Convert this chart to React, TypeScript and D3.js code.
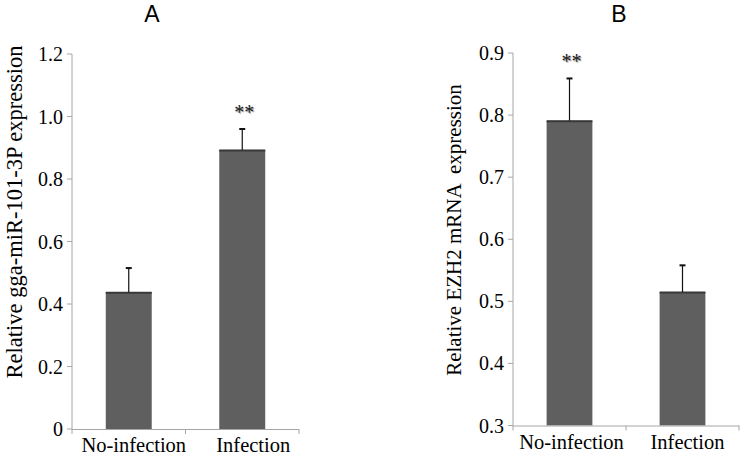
import React from 'react'
import * as d3 from 'd3'

const categories = ['No-infection', 'Infection']

// panel A: gga-miR-101-3P
const mirValues = [0.438, 0.893]
const mirErrors = [0.077, 0.067]
const mirStars = ['', '**']
const mirTicks = [0, 0.2, 0.4, 0.6, 0.8, 1.0, 1.2]

// panel B: EZH2 mRNA
const ezhValues = [0.791, 0.515]
const ezhErrors = [0.068, 0.043]
const ezhStars = ['**', '']
const ezhTicks = [0.3, 0.4, 0.5, 0.6, 0.7, 0.8, 0.9]

const serif = '"Liberation Serif", "Times New Roman", serif'
const sans = '"Liberation Sans", Arial, sans-serif'

const Panel = ({ letter, letterX, xRange, yDomain, yRange, ticks, fmt, values, errors, stars, ylabel, ylabelX, ylabelY, ylabelSize, labelDx }) => {
  const x = d3.scaleBand().domain(categories).range(xRange).padding(0)
  const y = d3.scaleLinear().domain(yDomain).range(yRange)
  const bw = x.bandwidth() * 0.405
  const base = y(yDomain[0])
  const left = xRange[0]
  const bounds = [...categories.map(c => x(c)), xRange[1]]

  return (
    <g>
      <text x={letterX} y={22} fontFamily={sans} fontSize={23} textAnchor='middle'>{letter}</text>
      <text transform={`translate(${ylabelX},${ylabelY}) rotate(-90)`} fontFamily={serif} fontSize={ylabelSize}
        textAnchor='middle' xmlSpace='preserve'>{ylabel}</text>

      {/* y axis */}
      <line x1={left} x2={left} y1={y(yDomain[1])} y2={base} stroke='#a6a6a6' />
      {ticks.map(t => (
        <g key={t}>
          <line x1={left - 5} x2={left} y1={y(t)} y2={y(t)} stroke='#a6a6a6' />
          <text x={left - 9} y={y(t)} dy='0.35em' textAnchor='end' fontFamily={serif} fontSize={20}>{fmt(t)}</text>
        </g>
      ))}

      {/* bars */}
      {categories.map((c, i) => {
        const cx = x(c) + x.bandwidth() / 2
        const top = y(values[i])
        const errTop = y(values[i] + errors[i])
        return (
          <g key={c}>
            <rect x={cx - bw / 2} y={top} width={bw} height={base - top} fill='#5f5f5f' />
            <line x1={cx - bw / 2} x2={cx + bw / 2} y1={top + 0.5} y2={top + 0.5} stroke='#383838' strokeWidth={2} />
            <line x1={cx} x2={cx} y1={top} y2={errTop} stroke='#111' strokeWidth={1.2} />
            <line x1={cx - 3} x2={cx + 3} y1={errTop} y2={errTop} stroke='#111' strokeWidth={2} />
            {stars[i] && (
              <text x={cx + 2} y={errTop - 10} textAnchor='middle' fontFamily={serif} fontSize={20} fill='#222'
                style={{ textShadow: '1px 1px 1px #999' }}>{stars[i]}</text>
            )}
            <text x={cx + labelDx[i]} y={base + 23} textAnchor='middle' fontFamily={serif} fontSize={20.5}>{c}</text>
          </g>
        )
      })}

      {/* x axis */}
      <line x1={left} x2={xRange[1]} y1={base + 0.5} y2={base + 0.5} stroke='#a6a6a6' />
      {bounds.map((b, i) => (
        <line key={i} x1={b} x2={b} y1={base} y2={base + 5} stroke='#a6a6a6' />
      ))}
    </g>
  )
}

export default function App () {
  return (
    <svg width={746} height={462} viewBox='0 0 746 462'
      style={{ position: 'absolute', left: 0, top: 0, background: '#fff' }}>
      <Panel letter='A' letterX={152} xRange={[72, 299]} yDomain={[0, 1.2]} yRange={[429, 54]}
        ticks={mirTicks} fmt={t => (t === 0 ? '0' : t.toFixed(1))}
        values={mirValues} errors={mirErrors} stars={mirStars}
        ylabel='Relative gga-miR-101-3P expression' ylabelX={22} ylabelY={212} ylabelSize={22.5} labelDx={[5, 11]} />
      <Panel letter='B' letterX={619} xRange={[513, 739]} yDomain={[0.3, 0.9]} yRange={[425.5, 53]}
        ticks={ezhTicks} fmt={t => t.toFixed(1)}
        values={ezhValues} errors={ezhErrors} stars={ezhStars}
        ylabel='Relative EZH2 mRNA  expression' ylabelX={461} ylabelY={230} ylabelSize={21} labelDx={[2, 5]} />
    </svg>
  )
}
